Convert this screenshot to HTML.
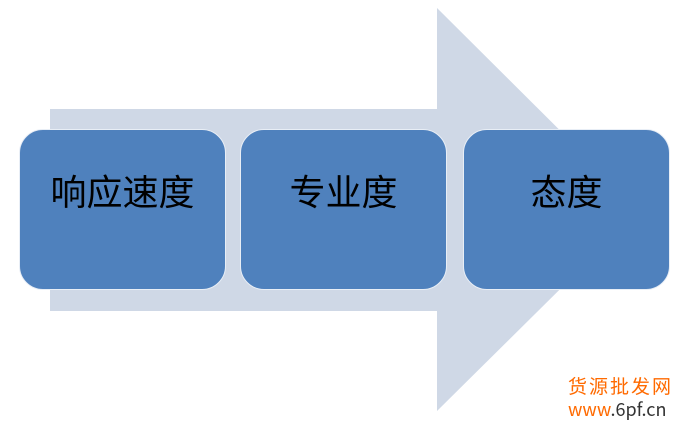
<!DOCTYPE html>
<html><head><meta charset="utf-8"><style>
body{margin:0;background:#fff;width:683px;height:427px;overflow:hidden;position:relative;font-family:"Liberation Sans","Noto Sans CJK SC",sans-serif}
.b{position:absolute;top:129px;width:207px;height:161px;background:#4f81bd;border:1.5px solid #e8eef6;border-radius:24px;box-sizing:border-box;text-align:center;font-size:36px;color:#000;padding-top:40px;line-height:46px}
.w{position:absolute;color:#ff6a00;font-family:"WenQuanYi Zen Hei","Noto Sans CJK SC",sans-serif}
</style></head><body>
<svg width="683" height="427" style="position:absolute;left:0;top:0">
<polygon points="50,109 437,109 437,8 640,210 437,411 437,311 50,311" fill="#cfd8e6"/>
</svg>
<div class="b" style="left:19px">响应速度</div>
<div class="b" style="left:240px">专业度</div>
<div class="b" style="left:463px">态度</div>
<div class="w" style="left:568px;top:372px;font-size:19px;letter-spacing:2px">货源批发网</div>
<div class="w" style="left:568px;top:396px;font-size:18px">www<span style="color:#333">.6pf.cn</span></div>
</body></html>
